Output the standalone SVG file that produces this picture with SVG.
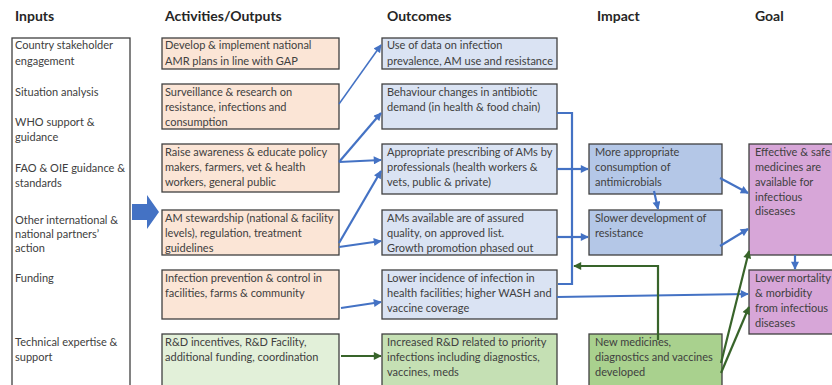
<svg xmlns="http://www.w3.org/2000/svg" width="832" height="385" viewBox="0 0 832 385">
  <style>
    .bg { fill: #ffffff; }
    .hd { font-family: Lato, "Open Sans", "Liberation Sans", sans-serif; font-size: 14px; font-weight: bold; fill: #262626; }
    .tx { font-family: Lato, "Open Sans", "Liberation Sans", sans-serif; font-size: 11px; fill: #404040; }
    .box { stroke: #404040; stroke-width: 1.3; }
    .inp { fill: #ffffff; stroke: #404040; stroke-width: 1.3; }
    .act { fill: #FBE5D6; }
    .out { fill: #DAE3F3; }
    .imp { fill: #B4C7E7; }
    .goal { fill: #D7A6D8; }
    .g1 { fill: #E2F0D9; }
    .g2 { fill: #C5E0B4; }
    .g3 { fill: #A9D18E; }
    .blue { fill: none; stroke: #4472C4; stroke-width: 2.2; }
    .blue-thin { fill: none; stroke: #4472C4; stroke-width: 1.5; }
    .green { fill: none; stroke: #38642A; stroke-width: 2.2; }
  </style>
  <defs>
    <marker id="ah-blue" viewBox="0 0 10 10" refX="9" refY="5" markerWidth="9" markerHeight="8" markerUnits="userSpaceOnUse" orient="auto">
      <path d="M0,0 L10,5 L0,10 z" fill="#4472C4"/>
    </marker>
    <marker id="ah-green" viewBox="0 0 10 10" refX="9" refY="5" markerWidth="9" markerHeight="8" markerUnits="userSpaceOnUse" orient="auto">
      <path d="M0,0 L10,5 L0,10 z" fill="#38642A"/>
    </marker>
  </defs>

  <rect class="bg" x="0" y="0" width="832" height="385"/>

  <!-- column headings -->
  <g id="headings">
    <text class="hd" x="15" y="21">Inputs</text>
    <text class="hd" x="165" y="21">Activities/Outputs</text>
    <text class="hd" x="387" y="21">Outcomes</text>
    <text class="hd" x="597" y="21">Impact</text>
    <text class="hd" x="755" y="21">Goal</text>
  </g>

  <!-- inputs column -->
  <g id="inputs">
    <rect class="inp" x="12" y="38" width="118" height="352"/>
    <text class="tx" x="15"><tspan x="15" y="49">Country stakeholder</tspan><tspan x="15" y="65">engagement</tspan></text>
    <text class="tx" x="15" y="96">Situation analysis</text>
    <text class="tx" x="15"><tspan x="15" y="126">WHO support &amp;</tspan><tspan x="15" y="141">guidance</tspan></text>
    <text class="tx" x="15"><tspan x="15" y="172">FAO &amp; OIE guidance &amp;</tspan><tspan x="15" y="187">standards</tspan></text>
    <text class="tx" x="15"><tspan x="15" y="224">Other international &amp;</tspan><tspan x="15" y="238">national partners’</tspan><tspan x="15" y="252">action</tspan></text>
    <text class="tx" x="15" y="282">Funding</text>
    <text class="tx" x="15"><tspan x="15" y="346">Technical expertise &amp;</tspan><tspan x="15" y="361">support</tspan></text>
  </g>

  <!-- block arrow from inputs into activities -->
  <g id="input-arrow">
    <polygon points="132,204 147,204 147,195 159,212 147,229 147,220 132,220" fill="#4472C4"/>
  </g>

  <!-- activities / outputs -->
  <g id="act-plans">
    <rect class="box act" x="162" y="38" width="177" height="31"/>
    <text class="tx"><tspan x="165" y="49">Develop &amp; implement national</tspan><tspan x="165" y="65">AMR plans in line with GAP</tspan></text>
  </g>
  <g id="act-surveillance">
    <rect class="box act" x="162" y="84" width="177" height="45"/>
    <text class="tx"><tspan x="165" y="96">Surveillance &amp; research on</tspan><tspan x="165" y="111">resistance, infections and</tspan><tspan x="165" y="126">consumption</tspan></text>
  </g>
  <g id="act-awareness">
    <rect class="box act" x="162" y="144" width="177" height="48"/>
    <text class="tx"><tspan x="165" y="156">Raise awareness &amp; educate policy</tspan><tspan x="165" y="171">makers, farmers, vet &amp; health</tspan><tspan x="165" y="186">workers, general public</tspan></text>
  </g>
  <g id="act-stewardship">
    <rect class="box act" x="162" y="210" width="177" height="45"/>
    <text class="tx"><tspan x="165" y="222">AM stewardship (national &amp; facility</tspan><tspan x="165" y="237">levels), regulation, treatment</tspan><tspan x="165" y="252">guidelines</tspan></text>
  </g>
  <g id="act-ipc">
    <rect class="box act" x="162" y="270" width="177" height="49"/>
    <text class="tx"><tspan x="165" y="282">Infection prevention &amp; control in</tspan><tspan x="165" y="297">facilities, farms &amp; community</tspan></text>
  </g>
  <g id="act-rd">
    <rect class="box g1" x="162" y="334" width="177" height="56"/>
    <text class="tx"><tspan x="165" y="346">R&amp;D incentives, R&amp;D Facility,</tspan><tspan x="165" y="361">additional funding, coordination</tspan></text>
  </g>

  <!-- outcomes -->
  <g id="out-data">
    <rect class="box out" x="382" y="38" width="175" height="31"/>
    <text class="tx"><tspan x="387" y="49">Use of data on infection</tspan><tspan x="387" y="65">prevalence, AM use and resistance</tspan></text>
  </g>
  <g id="out-behaviour">
    <rect class="box out" x="382" y="84" width="175" height="45"/>
    <text class="tx"><tspan x="387" y="96">Behaviour changes in antibiotic</tspan><tspan x="387" y="111">demand (in health &amp; food chain)</tspan></text>
  </g>
  <g id="out-prescribing">
    <rect class="box out" x="382" y="144" width="175" height="50"/>
    <text class="tx"><tspan x="387" y="156">Appropriate prescribing of AMs by</tspan><tspan x="387" y="171">professionals (health workers &amp;</tspan><tspan x="387" y="186">vets, public &amp; private)</tspan></text>
  </g>
  <g id="out-quality">
    <rect class="box out" x="382" y="210" width="175" height="45"/>
    <text class="tx"><tspan x="387" y="222">AMs available are of assured</tspan><tspan x="387" y="237">quality, on approved list.</tspan><tspan x="387" y="252">Growth promotion phased out</tspan></text>
  </g>
  <g id="out-incidence">
    <rect class="box out" x="382" y="270" width="175" height="49"/>
    <text class="tx"><tspan x="387" y="282">Lower incidence of infection in</tspan><tspan x="387" y="297">health facilities; higher WASH and</tspan><tspan x="387" y="312">vaccine coverage</tspan></text>
  </g>
  <g id="out-rd">
    <rect class="box g2" x="382" y="334" width="175" height="56"/>
    <text class="tx"><tspan x="387" y="346">Increased R&amp;D related to priority</tspan><tspan x="387" y="361">infections including diagnostics,</tspan><tspan x="387" y="376">vaccines, meds</tspan></text>
  </g>

  <!-- impact -->
  <g id="imp-consumption">
    <rect class="box imp" x="589" y="144" width="133" height="50"/>
    <text class="tx"><tspan x="595" y="156">More appropriate</tspan><tspan x="595" y="171">consumption of</tspan><tspan x="595" y="186">antimicrobials</tspan></text>
  </g>
  <g id="imp-resistance">
    <rect class="box imp" x="589" y="210" width="133" height="45"/>
    <text class="tx"><tspan x="595" y="222">Slower development of</tspan><tspan x="595" y="237">resistance</tspan></text>
  </g>
  <g id="imp-new">
    <rect class="box g3" x="589" y="334" width="133" height="56"/>
    <text class="tx"><tspan x="595" y="346">New medicines,</tspan><tspan x="595" y="361">diagnostics and vaccines</tspan><tspan x="595" y="376">developed</tspan></text>
  </g>

  <!-- goal -->
  <g id="goal-medicines">
    <rect class="box goal" x="749" y="144" width="90" height="111"/>
    <text class="tx"><tspan x="755" y="156">Effective &amp; safe</tspan><tspan x="755" y="171">medicines are</tspan><tspan x="755" y="186">available for</tspan><tspan x="755" y="201">infectious</tspan><tspan x="755" y="215">diseases</tspan></text>
  </g>
  <g id="goal-mortality">
    <rect class="box goal" x="749" y="270" width="90" height="64"/>
    <text class="tx"><tspan x="755" y="282">Lower mortality</tspan><tspan x="755" y="297">&amp; morbidity</tspan><tspan x="755" y="312">from infectious</tspan><tspan x="755" y="327">diseases</tspan></text>
  </g>

  <!-- connectors -->
  <g id="connectors">
    <line class="blue-thin" x1="339" y1="104" x2="381" y2="45" marker-end="url(#ah-blue)"/>
    <line class="blue" x1="339" y1="162" x2="381" y2="113" marker-end="url(#ah-blue)"/>
    <line class="blue" x1="339" y1="162" x2="381" y2="160" marker-end="url(#ah-blue)"/>
    <line class="blue" x1="339" y1="243" x2="381" y2="171" marker-end="url(#ah-blue)"/>
    <line class="blue" x1="339" y1="247" x2="381" y2="241" marker-end="url(#ah-blue)"/>
    <line class="blue" x1="341" y1="308" x2="381" y2="302" marker-end="url(#ah-blue)"/>
    <line class="green" x1="341" y1="356" x2="381" y2="356" marker-end="url(#ah-green)"/>

    <path class="blue" d="M557,113 H572 V284 H558"/>
    <line class="blue" x1="557" y1="169" x2="588" y2="169" marker-end="url(#ah-blue)"/>
    <line class="blue" x1="557" y1="237" x2="588" y2="237" marker-end="url(#ah-blue)"/>
    <path class="blue" d="M557,297 L748,294" marker-end="url(#ah-blue)"/>

    <line class="blue" x1="654" y1="191" x2="658" y2="209" marker-end="url(#ah-blue)"/>
    <line class="blue" x1="720" y1="178" x2="748" y2="193" marker-end="url(#ah-blue)"/>
    <line class="blue" x1="720" y1="246" x2="748" y2="229" marker-end="url(#ah-blue)"/>
    <line class="blue" x1="795" y1="255" x2="795" y2="269" marker-end="url(#ah-blue)"/>

    <path class="green" d="M658,340 V266 H574" marker-end="url(#ah-green)"/>
    <line class="green" x1="721" y1="363" x2="749" y2="251" marker-end="url(#ah-green)"/>
    <line class="green" x1="721" y1="373" x2="749" y2="307" marker-end="url(#ah-green)"/>
  </g>
</svg>
